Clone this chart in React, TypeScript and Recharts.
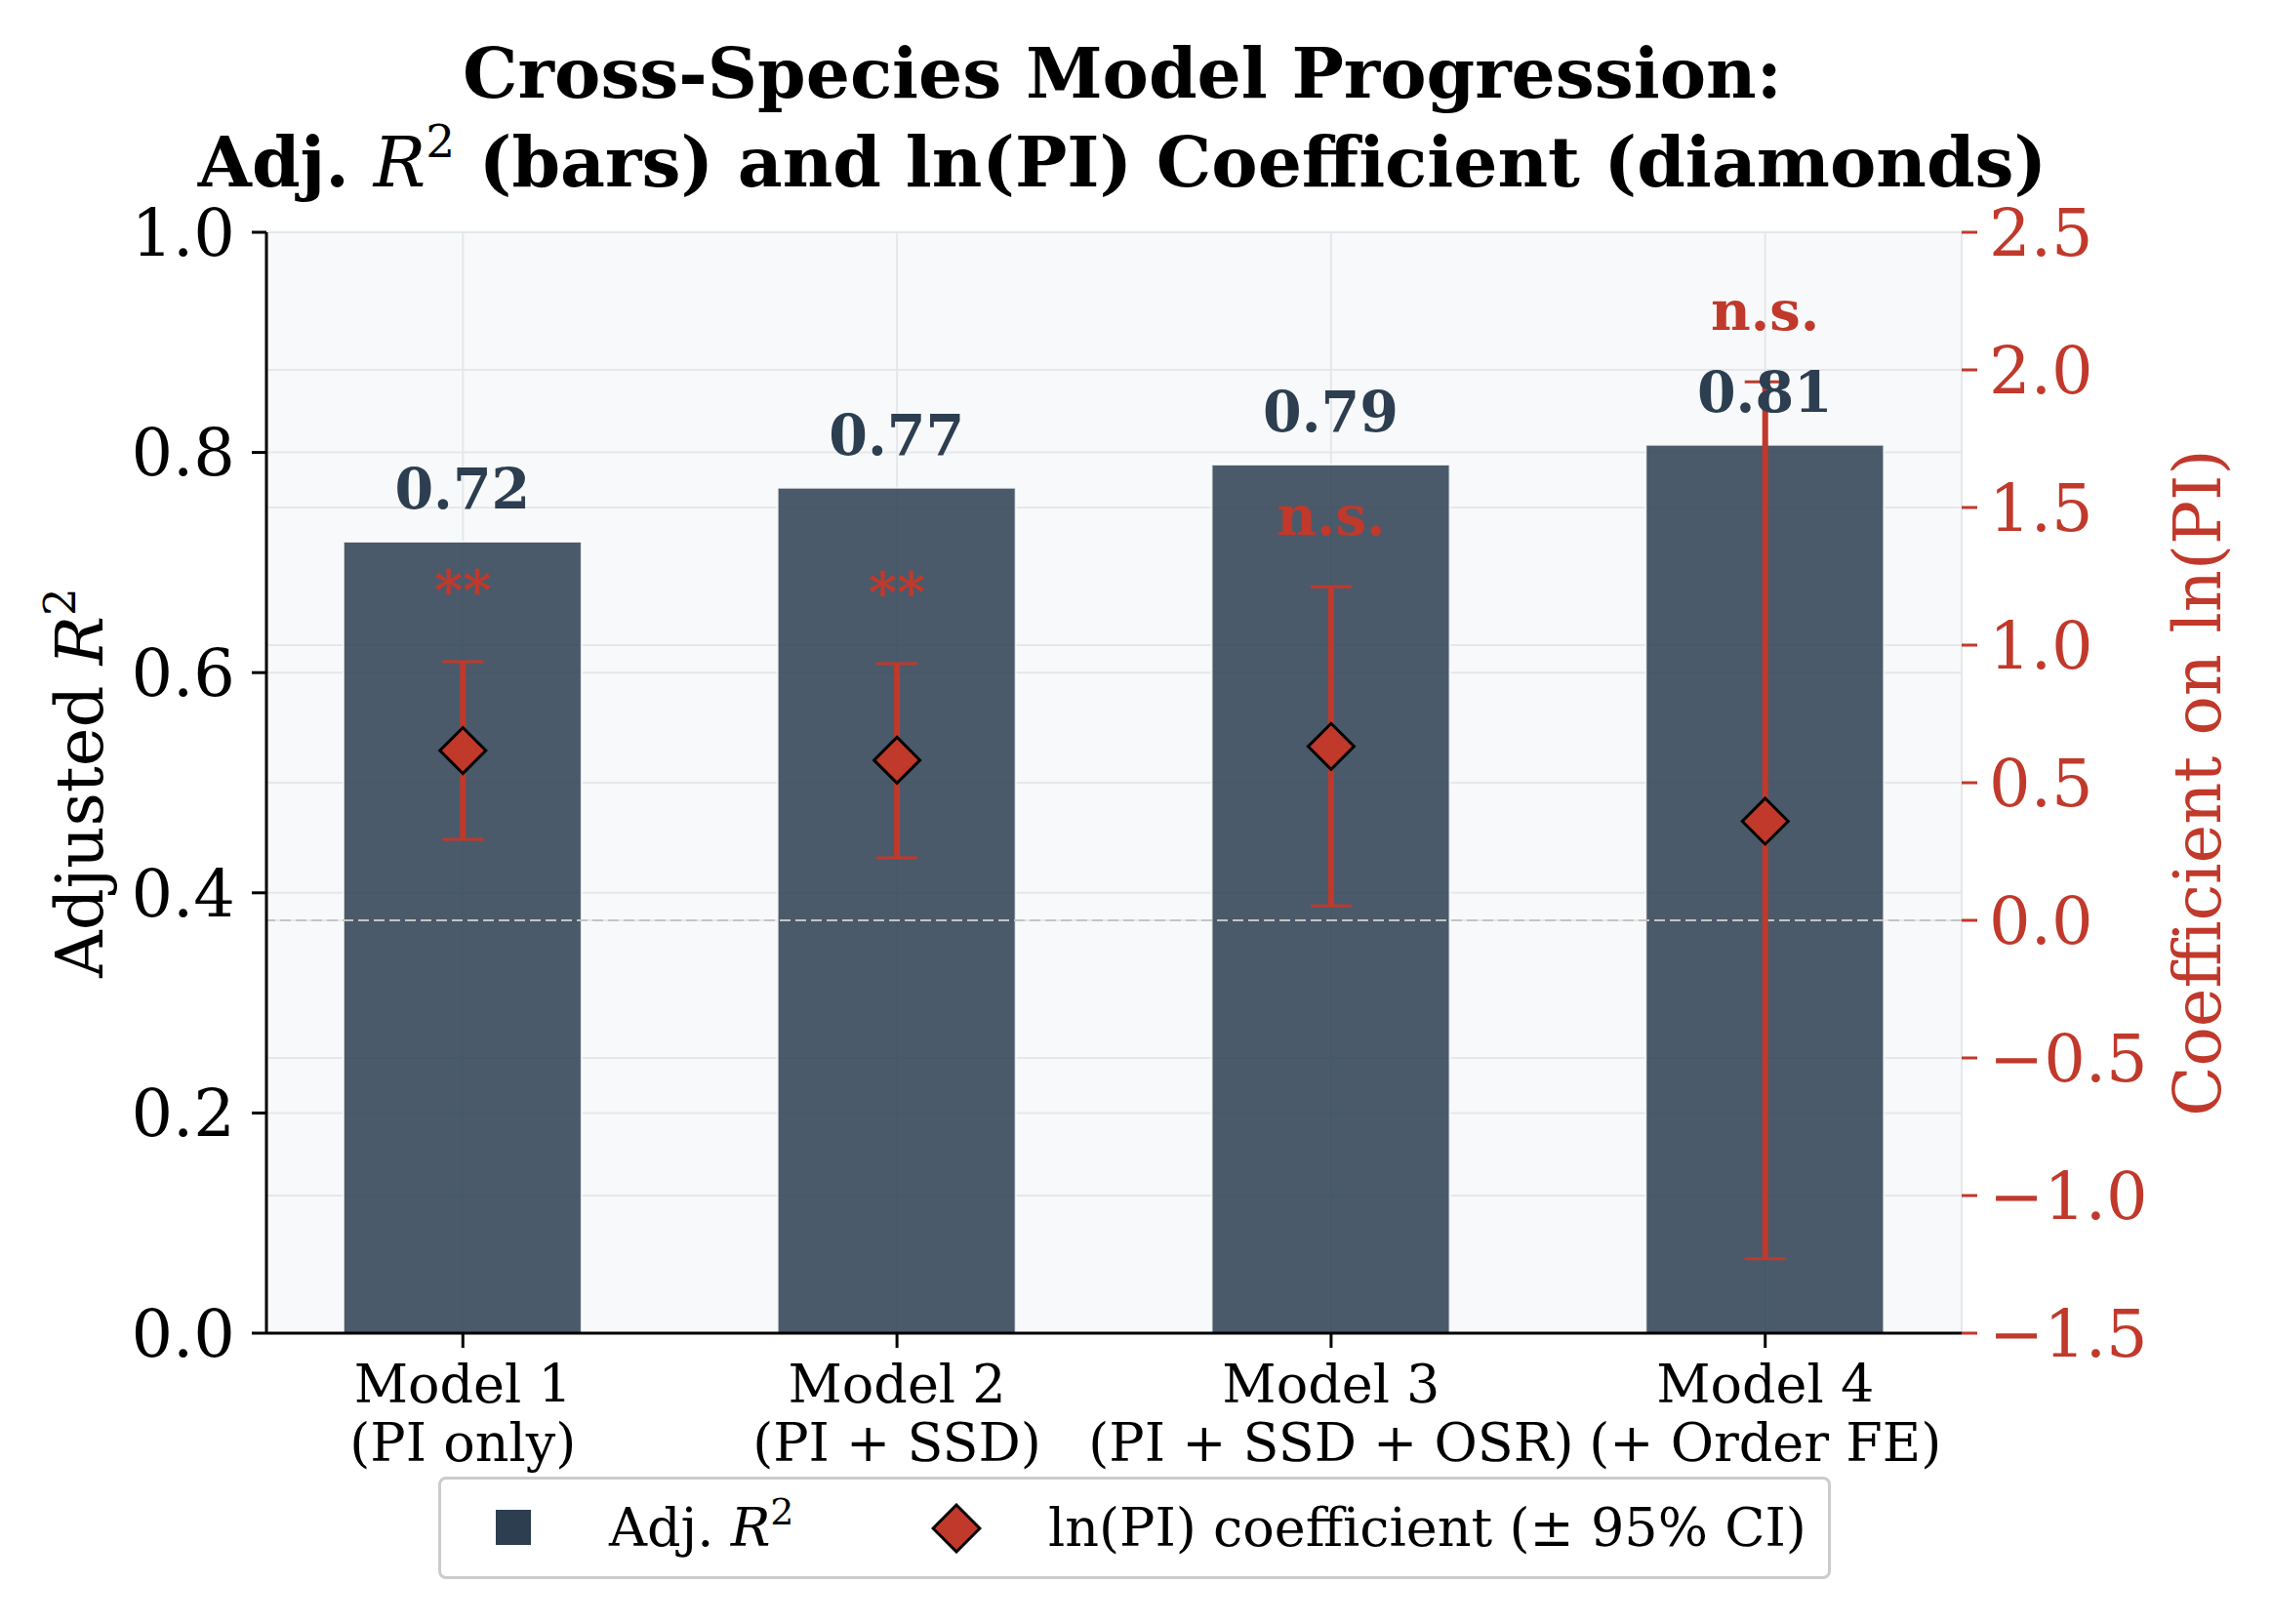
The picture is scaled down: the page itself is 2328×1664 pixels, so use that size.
import React from "react";
import {
  ComposedChart,
  Bar,
  Scatter,
  XAxis,
  YAxis,
  CartesianGrid,
  ErrorBar,
  ReferenceLine,
  LabelList,
  Legend,
} from "recharts";

// ---------- data ----------
const modelNames = ["Model 1", "Model 2", "Model 3", "Model 4"];
const modelSpecs = ["(PI only)", "(PI + SSD)", "(PI + SSD + OSR)", "(+ Order FE)"];
const modelPositions = [0, 1, 2, 3];
const adjR2 = [0.719, 0.768, 0.789, 0.807];
const coefLnPI = [0.617, 0.582, 0.632, 0.36];
const ciLow = [0.294, 0.227, 0.052, -1.23];
const ciHigh = [0.94, 0.933, 1.212, 1.957];
const sigLabels = ["**", "**", "n.s.", "n.s."];
const leftTicks = [0, 0.2, 0.4, 0.6, 0.8, 1.0];
const rightTicks = [-1.5, -1.0, -0.5, 0, 0.5, 1.0, 1.5, 2.0, 2.5];

const data = modelPositions.map((x, i) => ({
  x,
  r2: adjR2[i],
  coef: coefLnPI[i],
  err: [coefLnPI[i] - ciLow[i], ciHigh[i] - coefLnPI[i]],
  ciHigh: ciHigh[i],
  sig: sigLabels[i],
}));

// ---------- style ----------
const FONT = "'DejaVu Serif', serif";
const RED = "#c0392b";
const DARK = "#2c3e50";
const W = 2328;
const H = 1664;

const XTick = (props: any) => {
  const { x, y, payload } = props;
  const i = Math.round(payload.value);
  return (
    <g>
      <text x={x} y={y} textAnchor="middle" fontFamily={FONT} fontSize={54} fill="#000">
        <tspan x={x} dy={56}>{modelNames[i]}</tspan>
        <tspan x={x} dy={60}>{modelSpecs[i]}</tspan>
      </text>
    </g>
  );
};

const Diamond = (props: any) => {
  const { cx, cy } = props;
  const r = 23.5;
  return (
    <polygon
      points={`${cx},${cy - r} ${cx + r},${cy} ${cx},${cy + r} ${cx - r},${cy}`}
      fill={RED}
      stroke="#000"
      strokeWidth={3}
    />
  );
};

const SigText = (props: any) => {
  const { cx, cy, payload } = props;
  return (
    <text
      x={cx}
      y={cy - 53}
      textAnchor="middle"
      fontFamily={FONT}
      fontWeight="bold"
      fontSize={56}
      fill={RED}
    >
      {payload.sig}
    </text>
  );
};

const LeftLabel = (props: any) => {
  const vb = props.viewBox || { x: 0, y: 238, width: 273, height: 1128 };
  const x = vb.x + 105;
  const y = vb.y + vb.height / 2;
  return (
    <text
      x={x}
      y={y}
      transform={`rotate(-90, ${x}, ${y})`}
      textAnchor="middle"
      fontFamily={FONT}
      fontSize={67}
      fill="#000"
    >
      Adjusted <tspan fontStyle="italic">R</tspan>
      <tspan fontSize={45} dy={-28}>2</tspan>
    </text>
  );
};

const RightLabel = (props: any) => {
  const vb = props.viewBox || { x: 2010, y: 238, width: 318, height: 1128 };
  const x = vb.x + 265;
  const y = vb.y + vb.height / 2;
  return (
    <text
      x={x}
      y={y}
      transform={`rotate(-90, ${x}, ${y})`}
      textAnchor="middle"
      fontFamily={FONT}
      fontSize={67}
      fill={RED}
    >
      Coefficient on ln(PI)
    </text>
  );
};

const LegendBox = (props: any) => {
  const payload = (props.payload || []).filter((p: any) => p.type !== "none");
  const positions = [
    { marker: 59, text: 175 },
    { marker: 505, text: 625 },
  ];
  return (
    <div
      style={{
        position: "relative",
        width: 1427,
        height: 105,
        boxSizing: "border-box",
        border: "3px solid #cccccc",
        borderRadius: 8,
        background: "rgba(255,255,255,0.9)",
        fontFamily: FONT,
        fontSize: 54,
        color: "#000",
      }}
    >
      {payload.map((entry: any, i: number) => {
        const pos = positions[i] || positions[0];
        const isBar = entry.dataKey === "r2";
        return (
          <React.Fragment key={i}>
            {isBar ? (
              <div
                style={{
                  position: "absolute",
                  left: pos.marker - 3,
                  top: 31,
                  width: 36,
                  height: 36,
                  background: DARK,
                }}
              />
            ) : (
              <svg
                style={{ position: "absolute", left: pos.marker - 3, top: 24 }}
                width={52}
                height={52}
              >
                <polygon points="26,2 50,26 26,50 2,26" fill={RED} stroke="#000" strokeWidth={3} />
              </svg>
            )}
            <div
              style={{
                position: "absolute",
                left: pos.text - 3,
                top: 0,
                height: 99,
                display: "flex",
                alignItems: "center",
                whiteSpace: "nowrap",
                lineHeight: 1,
              }}
            >
              {isBar ? (
                <span>
                  Adj. <i>R</i>
                  <sup style={{ fontSize: 38, verticalAlign: 0, position: "relative", top: -22 }}>2</sup>
                </span>
              ) : (
                <span>{entry.value}</span>
              )}
            </div>
          </React.Fragment>
        );
      })}
    </div>
  );
};

export default function App() {
  return (
    <div style={{ position: "absolute", left: 0, top: 0, width: W, height: H, background: "#fff" }}>
      <ComposedChart
        width={W}
        height={H}
        data={data}
        margin={{ top: 238, right: 0, bottom: 98, left: 0 }}
      >
        <CartesianGrid
          yAxisId="left"
          xAxisId="x"
          stroke="#e5e7ea"
          strokeWidth={2}
          fill="#f8f9fa"
          fillOpacity={1}
          horizontal={true}
          vertical={true}
        />
        <CartesianGrid
          yAxisId="right"
          xAxisId="x"
          stroke="#e5e7ea"
          strokeWidth={2}
          horizontal={true}
          vertical={false}
        />
        <XAxis
          xAxisId="x"
          dataKey="x"
          type="number"
          domain={[-0.4525, 3.4525]}
          ticks={modelPositions}
          interval={0}
          height={200}
          tickSize={15}
          tickMargin={0}
          axisLine={{ stroke: "#000", strokeWidth: 3 }}
          tickLine={{ stroke: "#000", strokeWidth: 3 }}
          tick={<XTick />}
        />
        <YAxis
          yAxisId="left"
          orientation="left"
          width={273}
          domain={[0, 1]}
          ticks={leftTicks}
          interval={0}
          tickSize={15}
          tickMargin={17}
          tickFormatter={(v: number) => v.toFixed(1)}
          axisLine={{ stroke: "#000", strokeWidth: 3 }}
          tickLine={{ stroke: "#000", strokeWidth: 3 }}
          tick={{ fill: "#000", fontSize: 67, fontFamily: FONT }}
          label={{ content: <LeftLabel /> }}
        />
        <YAxis
          yAxisId="right"
          orientation="right"
          width={318}
          domain={[-1.5, 2.5]}
          ticks={rightTicks}
          interval={0}
          tickSize={16}
          tickMargin={12}
          tickFormatter={(v: number) => (v < 0 ? "\u2212" : "") + Math.abs(v).toFixed(1)}
          axisLine={false}
          tickLine={{ stroke: RED, strokeWidth: 3 }}
          tick={{ fill: RED, fontSize: 67, fontFamily: FONT }}
          label={{ content: <RightLabel /> }}
        />
        <Bar
          xAxisId="x"
          yAxisId="left"
          dataKey="r2"
          name="Adj. R²"
          barSize={244}
          fill={DARK}
          fillOpacity={0.85}
          stroke="#ffffff"
          strokeWidth={2}
          strokeOpacity={0.8}
          isAnimationActive={false}
          legendType="square"
        >
          <LabelList
            dataKey="r2"
            position="top"
            offset={34}
            formatter={(v: any) => Number(v).toFixed(2)}
            fill={DARK}
            fontSize={57}
            fontWeight="bold"
            fontFamily={FONT}
          />
        </Bar>
        <ReferenceLine
          xAxisId="x"
          yAxisId="right"
          y={0}
          stroke="#c4c4c4"
          strokeWidth={2}
          strokeDasharray="11 5"
        />
        <Scatter
          xAxisId="x"
          yAxisId="right"
          dataKey="ciHigh"
          name="sig"
          legendType="none"
          shape={<SigText />}
          isAnimationActive={false}
        />
        <Scatter
          xAxisId="x"
          yAxisId="right"
          dataKey="coef"
          name="ln(PI) coefficient (± 95% CI)"
          legendType="diamond"
          fill={RED}
          shape={<Diamond />}
          isAnimationActive={false}
        >
          <ErrorBar dataKey="err" direction="y" width={21} stroke={RED} strokeWidth={3} isAnimationActive={false} />
          <ErrorBar dataKey="err" direction="y" width={0} stroke={RED} strokeWidth={6} isAnimationActive={false} />
        </Scatter>
        <Legend
          layout="vertical"
          align="center"
          verticalAlign="middle"
          wrapperStyle={{ left: 449, top: 1513, width: 1427, height: 105, margin: 0 }}
          content={<LegendBox />}
        />
      </ComposedChart>
      <svg
        width={W}
        height={230}
        style={{ position: "absolute", left: 0, top: 0, pointerEvents: "none" }}
      >
        <text x={1150} y={100} textAnchor="middle" fontFamily={FONT} fontWeight="bold" fontSize={71} fill="#000">
          Cross-Species Model Progression:
        </text>
        <text x={1150} y={191} textAnchor="middle" fontFamily={FONT} fontWeight="bold" fontSize={71} fill="#000">
          Adj. <tspan fontStyle="italic" fontWeight="normal">R</tspan>
          <tspan fontWeight="normal" fontSize={47} dy={-30}>2</tspan>
          <tspan dy={30}> (bars) and ln(PI) Coefficient (diamonds)</tspan>
        </text>
      </svg>
    </div>
  );
}
